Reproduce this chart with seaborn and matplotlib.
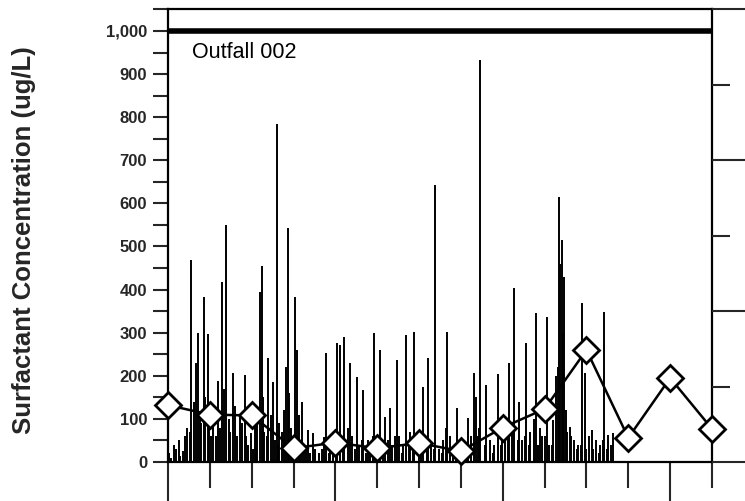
import numpy as np
import pandas as pd
import matplotlib
matplotlib.use("Agg")
import matplotlib.pyplot as plt
import seaborn as sns
from matplotlib.ticker import MultipleLocator, FixedLocator, NullFormatter

# ---- data ----
# tall daily samples
spike_day = [1, 4, 6, 9, 12, 14, 17, 20, 22, 24, 26, 29, 31, 33, 36, 38, 39, 42, 44, 47,
             50, 52, 56, 58, 60, 63, 65, 67, 68, 70, 73, 76, 78, 79, 81, 84, 86, 87, 89, 92,
             94, 96, 97, 100, 102, 105, 107, 110, 113, 115, 118, 120, 123, 125, 128, 132, 134, 137, 139, 142,
             145, 147, 150, 152, 154, 158, 161, 163, 166, 168, 171, 173, 176, 179, 182, 185, 189, 191, 194, 197,
             200, 203, 205, 207, 210, 214, 216, 218, 222, 224, 225, 227, 231, 234, 237, 240, 243, 245, 248, 251,
             255, 257, 260, 263, 267, 270, 272, 275, 277, 280, 282, 284, 285, 286, 288, 290, 292, 295, 298, 301,
             303, 306, 308, 311, 314, 317, 320, 323]
spike_conc = [20, 40, 30, 15, 60, 80, 469, 230, 300, 90, 383, 297, 60, 120, 188, 80, 418, 550, 100, 206,
              60, 110, 202, 40, 67, 120, 90, 394, 455, 70, 241, 186, 50, 784, 90, 120, 220, 543, 80, 383,
              260, 50, 139, 30, 74, 67, 30, 20, 58, 253, 40, 30, 276, 271, 290, 230, 60, 197, 40, 167,
              50, 30, 299, 60, 260, 104, 125, 40, 237, 60, 40, 295, 70, 302, 50, 174, 241, 40, 642, 30,
              50, 302, 60, 30, 125, 40, 30, 102, 206, 151, 60, 933, 179, 50, 40, 204, 90, 60, 230, 404,
              139, 50, 276, 70, 345, 80, 60, 336, 40, 97, 200, 615, 460, 515, 430, 70, 81, 50, 40, 369,
              206, 60, 74, 51, 40, 348, 63, 67]
# shorter samples in between
small_day = [2, 8, 11, 16, 19, 23, 27, 30, 35, 41, 45, 49, 54, 57, 62, 64, 69, 72, 75, 80,
             83, 88, 91, 95, 99, 103, 112, 117, 122, 127, 131, 136, 141, 144, 149, 156, 160, 165, 170, 175,
             178, 184, 188, 193, 199, 202, 209, 212, 220, 226, 230, 236, 242, 247, 250, 254, 259, 262, 266, 269,
             274, 279, 283, 287, 289, 293, 297, 300, 304, 309, 313, 316, 319, 322]
small_conc = [10, 50, 25, 70, 140, 110, 150, 90, 60, 170, 70, 130, 90, 60, 30, 110, 150, 60, 110, 40,
              70, 160, 60, 110, 40, 20, 30, 20, 60, 40, 80, 30, 50, 20, 60, 30, 50, 60, 20, 40,
              60, 40, 60, 30, 20, 80, 40, 20, 60, 80, 40, 20, 40, 60, 90, 50, 60, 40, 100, 40,
              60, 40, 220, 300, 120, 60, 30, 40, 30, 30, 20, 50, 30, 40]

month_index = list(range(14))
monthly_mean = [132, 110, 108, 32, 45, 32, 44, 25, 80, 123, 260, 56, 195, 77]

y_ticks = [0, 100, 200, 300, 400, 500, 600, 700, 800, 900, 1000]
y_labels = ["0", "100", "200", "300", "400", "500", "600", "700", "800", "900", "1,000"]
limit_value = 1000
label_text = "Outfall 002"
y_title = "Surfactant Concentration (ug/L)"

DAYS_PER_MONTH = 30.4

# ---- figure ----
sns.set_theme(style="white")
plt.rcParams["font.family"] = ["Liberation Sans", "DejaVu Sans"]

fig = plt.figure(figsize=(7.45, 5.01), dpi=100)
ax = fig.add_axes([168 / 745, 1 - 462 / 501, (712 - 168) / 745, (462 - 9) / 501])

spikes = pd.concat([pd.DataFrame({"day": spike_day, "conc": spike_conc}),
                    pd.DataFrame({"day": small_day, "conc": small_conc})]).sort_values("day")
ax.vlines(spikes["day"], 0, spikes["conc"], color="black", linewidth=1.4)

monthly = pd.DataFrame({"day": [m * DAYS_PER_MONTH for m in month_index], "conc": monthly_mean})
sns.lineplot(data=monthly, x="day", y="conc", ax=ax, color="black", linewidth=1.8,
             marker="D", markersize=13, markerfacecolor="white", markeredgecolor="black",
             markeredgewidth=2.0, clip_on=False, zorder=5)

ax.axhline(limit_value, color="black", linewidth=4, zorder=4)

ax.set_xlim(0, 13 * DAYS_PER_MONTH)
ax.set_ylim(0, 1051)

ax.set_yticks(y_ticks)
ax.set_yticklabels(y_labels, fontsize=12, fontweight="bold")
ax.yaxis.set_minor_locator(MultipleLocator(50))
ax.tick_params(axis="y", which="major", direction="out", length=11, width=1.5, pad=4, left=True)
ax.tick_params(axis="y", which="minor", direction="out", length=11, width=1.5, left=True)

major_x = [m * DAYS_PER_MONTH for m in [0, 4, 8, 12]]
minor_x = [m * DAYS_PER_MONTH for m in month_index if m not in [0, 4, 8, 12]]
ax.xaxis.set_major_locator(FixedLocator(major_x))
ax.xaxis.set_minor_locator(FixedLocator(minor_x))
ax.xaxis.set_major_formatter(NullFormatter())
ax.tick_params(axis="x", which="major", direction="out", length=28, width=1.5, bottom=True)
ax.tick_params(axis="x", which="minor", direction="out", length=19, width=1.5, bottom=True)
ax.set_xlabel("")

ax.set_ylabel(y_title, fontsize=18.5, fontweight="bold")
ax.yaxis.set_label_coords((36 - 168) / 544, 0.49)

for s in ax.spines.values():
    s.set_visible(True)
    s.set_color("black")
    s.set_linewidth(1.6)

# right-hand secondary axis (ticks only)
ax2 = ax.twinx()
ax2.set_ylim(0, 3)
ax2.yaxis.set_major_locator(MultipleLocator(1))
ax2.yaxis.set_minor_locator(MultipleLocator(0.5))
ax2.yaxis.set_major_formatter(NullFormatter())
ax2.tick_params(axis="y", which="major", direction="out", length=24, width=1.5, right=True)
ax2.tick_params(axis="y", which="minor", direction="out", length=13, width=1.5, right=True)
ax2.grid(False)
for s in ax2.spines.values():
    s.set_visible(False)

ax.text(0.045, 0.905, label_text, transform=ax.transAxes, fontsize=15.5, color="black",
        ha="left", va="center")
ax.grid(False)

fig.savefig("out.png", dpi=100)
